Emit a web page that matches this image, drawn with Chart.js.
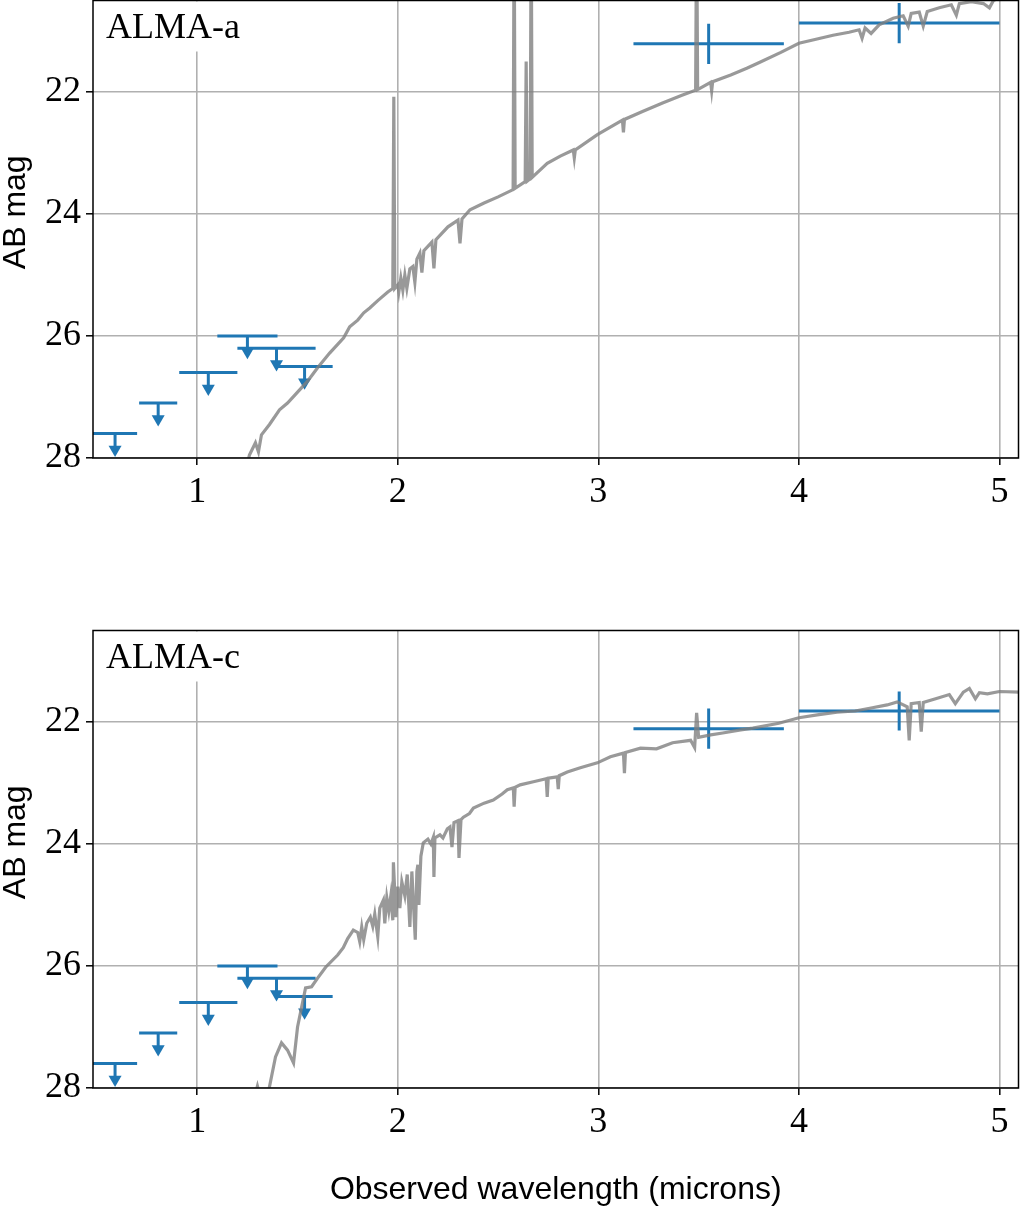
<!DOCTYPE html>
<html>
<head>
<meta charset="utf-8">
<script src="https://cdn.jsdelivr.net/npm/chart.js@4.4.1/dist/chart.umd.min.js"></script>
<style>
  body { margin: 0; background: #fff; overflow: hidden; }
  #box1 { position: absolute; left: 0; top: -7px; width: 1026px; height: 537px; }
  #box2 { position: absolute; left: 0; top: 600px; width: 1026px; height: 624px; }
</style>
</head>
<body>
<div id="box1"><canvas id="chartA"></canvas></div>
<div id="box2"><canvas id="chartC"></canvas></div>
<script>
const xTicks = [1, 2, 3, 4, 5];
const yTicks = [22, 24, 26, 28];

// HST upper limits (same filters in both panels)
const hstWave = [0.59, 0.805, 1.055, 1.25, 1.395, 1.535];
const hstHalfWidth = [0.11, 0.095, 0.145, 0.15, 0.195, 0.14];
const hstLimitA = [27.6, 27.1, 26.6, 26.0, 26.2, 26.5];
const hstLimitC = [27.6, 27.1, 26.6, 26.0, 26.2, 26.5];

// IRAC detections
const iracWave = [3.55, 4.50];
const iracHalfWidth = [0.375, 0.50];
const iracMagA = [21.21, 20.87];
const iracErrA = [0.33, 0.33];
const iracMagC = [22.11, 21.82];
const iracErrC = [0.33, 0.32];

// model spectra
const specWaveA = [1.24, 1.26, 1.29, 1.305, 1.32, 1.36, 1.41, 1.45, 1.50, 1.55, 1.60, 1.66, 1.73, 1.76, 1.80, 1.83, 1.86, 1.90, 1.95, 1.975,
  1.98, 1.985, 2.00, 2.005, 2.015, 2.025, 2.035, 2.045, 2.06, 2.075, 2.085, 2.095, 2.11, 2.12, 2.13, 2.17, 2.18, 2.19, 2.25, 2.30,
  2.31, 2.32, 2.36, 2.43, 2.50, 2.575, 2.58, 2.585, 2.635, 2.64, 2.645, 2.66, 2.665, 2.67, 2.745, 2.81, 2.875, 2.88, 2.885, 2.995,
  3.12, 3.125, 3.13, 3.22, 3.32, 3.42, 3.485, 3.49, 3.495, 3.56, 3.565, 3.57, 3.66, 3.74, 3.80, 3.91, 4.00, 4.08, 4.17, 4.25,
  4.30, 4.315, 4.33, 4.36, 4.40, 4.47, 4.52, 4.545, 4.56, 4.60, 4.62, 4.64, 4.70, 4.76, 4.785, 4.80, 4.86, 4.92, 4.95, 4.97,
  5.00, 5.10];
const specMagA = [28.25, 27.95, 27.75, 27.9, 27.62, 27.45, 27.21, 27.1, 26.92, 26.74, 26.52, 26.28, 26.03, 25.85, 25.74, 25.62, 25.54, 25.42, 25.28, 25.22,
  22.08, 25.22, 25.16, 25.28, 25.05, 25.25, 25.0, 25.22, 24.9, 24.86, 25.12, 24.74, 24.64, 24.96, 24.6, 24.46, 24.89, 24.42, 24.21, 24.10,
  24.48, 24.08, 23.93, 23.82, 23.72, 23.6, 19.0, 23.58, 23.47, 21.5, 23.46, 23.42, 19.0, 23.4, 23.17, 23.05, 22.95, 23.08, 22.95, 22.7,
  22.46, 22.66, 22.45, 22.32, 22.18, 22.05, 21.97, 19.0, 21.96, 21.84, 21.98, 21.83, 21.72, 21.61, 21.52, 21.35, 21.20, 21.14, 21.07, 21.02,
  20.98, 21.12, 20.95, 21.04, 20.9, 20.79, 20.75, 20.92, 20.71, 20.69, 20.92, 20.68, 20.62, 20.57, 20.74, 20.55, 20.52, 20.55, 20.62, 20.5,
  20.45, 20.40];

const specWaveC = [1.29, 1.30, 1.31, 1.35, 1.36, 1.39, 1.42, 1.45, 1.48, 1.50, 1.54, 1.57, 1.60, 1.64, 1.70, 1.728, 1.75, 1.778, 1.80, 1.81,
  1.82, 1.83, 1.845, 1.863, 1.875, 1.885, 1.90, 1.91, 1.928, 1.935, 1.945, 1.955, 1.965, 1.975, 1.978, 1.985, 1.99, 2.00, 2.01, 2.02,
  2.035, 2.047, 2.06, 2.07, 2.087, 2.095, 2.10, 2.105, 2.115, 2.127, 2.15, 2.165, 2.177, 2.18, 2.185, 2.21, 2.225, 2.247, 2.26, 2.27,
  2.28, 2.30, 2.305, 2.315, 2.327, 2.357, 2.377, 2.43, 2.476, 2.52, 2.546, 2.576, 2.58, 2.585, 2.61, 2.676, 2.74, 2.745, 2.75, 2.795,
  2.80, 2.805, 2.845, 2.91, 2.995, 3.06, 3.125, 3.13, 3.135, 3.21, 3.29, 3.37, 3.46, 3.48, 3.49, 3.50, 3.56, 3.62, 3.71, 3.77,
  3.90, 4.00, 4.10, 4.19, 4.28, 4.36, 4.44, 4.49, 4.54, 4.55, 4.56, 4.60, 4.61, 4.62, 4.69, 4.75, 4.78, 4.82, 4.85, 4.88,
  4.90, 4.94, 5.00, 5.10];
const specMagC = [28.1, 27.97, 28.1, 28.15, 27.98, 27.49, 27.26, 27.38, 27.59, 27.0, 26.36, 26.34, 26.2, 26.02, 25.82, 25.70, 25.55, 25.41, 25.45, 25.6,
  25.36, 25.57, 25.3, 25.2, 25.35, 25.15, 25.52, 25.05, 24.92, 25.3, 24.88, 25.1, 24.85, 25.25, 24.3, 24.8, 25.2, 24.7, 25.05, 24.62,
  24.85, 24.5, 25.36, 24.45, 25.57, 24.45, 24.34, 25.0, 24.2, 23.98, 23.92, 24.0, 23.89, 24.54, 23.9, 23.85, 23.9, 23.75, 23.72, 24.05,
  23.65, 23.62, 24.23, 23.6, 23.56, 23.5, 23.41, 23.33, 23.28, 23.18, 23.11, 23.08, 23.39, 23.07, 23.03, 22.98, 22.93, 23.23, 22.92, 22.9,
  23.1, 22.88, 22.82, 22.75, 22.67, 22.57, 22.51, 22.84, 22.5, 22.43, 22.44, 22.34, 22.3, 22.42, 21.85, 22.25, 22.21, 22.18, 22.13, 22.1,
  22.02, 21.93, 21.88, 21.84, 21.82, 21.77, 21.72, 21.67, 21.75, 22.3, 21.7, 21.68, 22.16, 21.68, 21.61, 21.55, 21.7, 21.51, 21.45, 21.62,
  21.52, 21.54, 21.5, 21.51];

const BLUE = '#1f77b4';
const GREY = 'rgba(128,128,128,0.8)';
const ARROW_STEM = 0.26;   // mag below the limit where the head sits
const SERIF = "'Liberation Serif', 'DejaVu Serif', serif";
const SANS = "'Liberation Sans', Arial, sans-serif";

function hBars(wave, half, mag) {
  const pts = [];
  wave.forEach((w, i) => {
    pts.push({x: w - half[i], y: mag[i]}, {x: w + half[i], y: mag[i]}, {x: w, y: null});
  });
  return pts;
}

function vBars(wave, mag, err) {
  const pts = [];
  wave.forEach((w, i) => {
    pts.push({x: w, y: mag[i] - err[i]}, {x: w, y: mag[i] + err[i]}, {x: w, y: null});
  });
  return pts;
}

function lineSet(data, color, width, order) {
  return {
    data: data,
    borderColor: color,
    borderWidth: width,
    pointRadius: 0,
    fill: false,
    tension: 0,
    spanGaps: false,
    borderCapStyle: 'butt',
    order: order
  };
}

function makeChart(id, name, specWave, specMag, limits, iracMag, iracErr, padTop, xHeight, showXTitle) {
  const spec = specWave.map((w, i) => ({x: w, y: specMag[i]}));
  const stems = [];
  const heads = [];
  hstWave.forEach((w, i) => {
    stems.push({x: w, y: limits[i]}, {x: w, y: limits[i] + ARROW_STEM}, {x: w, y: null});
    heads.push({x: w, y: limits[i] + ARROW_STEM});
  });

  const decor = {
    id: 'decor',
    afterDraw(chart) {
      const ctx = chart.ctx;
      const a = chart.chartArea;
      ctx.save();
      // label box
      ctx.fillStyle = '#fff';
      ctx.fillRect(a.left + 6, a.top + 1, 146, 50);
      ctx.fillStyle = '#000';
      ctx.font = '36px ' + SERIF;
      ctx.textBaseline = 'alphabetic';
      ctx.fillText(name, a.left + 13, a.top + 37);
      // frame
      ctx.strokeStyle = '#000';
      ctx.lineWidth = 1.5;
      ctx.strokeRect(a.left, a.top, a.right - a.left, a.bottom - a.top);
      // y label
      ctx.translate(16, (a.top + a.bottom) / 2 - 17);
      ctx.rotate(-Math.PI / 2);
      ctx.font = '32px ' + SANS;
      ctx.textAlign = 'center';
      ctx.textBaseline = 'middle';
      ctx.fillText('AB mag', 0, 0);
      ctx.restore();
    }
  };

  const config = {
    type: 'line',
    data: {
      datasets: [
        lineSet(spec, GREY, 3.2, 0),
        lineSet(hBars(hstWave, hstHalfWidth, limits), BLUE, 3, 1),
        lineSet(stems, BLUE, 3, 1),
        {
          data: heads,
          showLine: false,
          pointStyle: 'triangle',
          rotation: 180,
          pointRadius: 7.5,
          backgroundColor: BLUE,
          borderWidth: 0,
          order: 1
        },
        lineSet(hBars(iracWave, iracHalfWidth, iracMag), BLUE, 3, 1),
        lineSet(vBars(iracWave, iracMag, iracErr), BLUE, 3, 1)
      ]
    },
    options: {
      responsive: true,
      maintainAspectRatio: false,
      animation: false,
      layout: { padding: { top: padTop, right: 2, left: 0, bottom: 0 } },
      plugins: {
        legend: { display: false },
        tooltip: { enabled: false }
      },
      scales: {
        x: {
          type: 'linear',
          min: 0.48,
          max: 5.095,
          afterBuildTicks: s => { s.ticks = xTicks.map(v => ({value: v})); },
          afterFit: s => { s.height = xHeight; s.paddingLeft = 0; s.paddingRight = 0; },
          border: { display: false },
          grid: { color: '#b0b0b0', lineWidth: 1.6, tickColor: '#000', tickWidth: 1.5, tickLength: 7 },
          ticks: { color: '#000', padding: 6, maxRotation: 0, font: { family: SERIF, size: 36 } },
          title: {
            display: showXTitle,
            text: 'Observed wavelength (microns)',
            color: '#000',
            padding: { top: 0, bottom: 15 },
            font: { family: SANS, size: 32 }
          }
        },
        y: {
          type: 'linear',
          reverse: true,
          min: 20.5,
          max: 28,
          afterBuildTicks: s => { s.ticks = yTicks.map(v => ({value: v})); },
          afterFit: s => { s.width = 93; s.paddingTop = 0; s.paddingBottom = 0; },
          border: { display: false },
          grid: { color: '#b0b0b0', lineWidth: 1.6, tickColor: '#000', tickWidth: 1.5, tickLength: 7 },
          ticks: { color: '#000', padding: 5, font: { family: SERIF, size: 36 } }
        }
      }
    },
    plugins: [decor]
  };
  return new Chart(document.getElementById(id).getContext('2d'), config);
}

makeChart('chartA', 'ALMA-a', specWaveA, specMagA, hstLimitA, iracMagA, iracErrA, 1, 72, false);
makeChart('chartC', 'ALMA-c', specWaveC, specMagC, hstLimitC, iracMagC, iracErrC, 30.5, 136, true);
</script>
</body>
</html>
